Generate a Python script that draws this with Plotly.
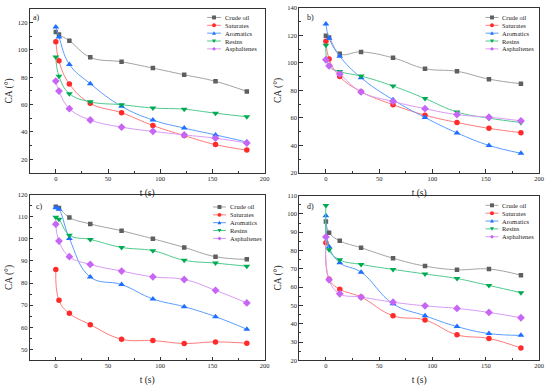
import plotly.graph_objects as go
from plotly.subplots import make_subplots

W, H = 550, 390

t = [0, 3, 13, 33, 63, 93, 123, 153, 183]
series_names = ["Crude oil", "Saturates", "Aromatics", "Resins", "Asphaltenes"]
panel_labels = ["a)", "b)", "c)", "d)"]

# panel a
a_crude = [113.1, 111.2, 106.7, 94.6, 91.3, 86.7, 81.8, 77.0, 69.6]
a_sat = [106.0, 92.0, 75.1, 60.9, 54.0, 44.7, 37.3, 30.7, 26.7]
a_aro = [116.7, 109.5, 89.4, 75.3, 58.7, 48.7, 42.8, 37.8, 32.6]
a_res = [94.8, 80.8, 68.0, 62.0, 59.9, 57.5, 56.6, 53.7, 51.1]
a_asp = [77.2, 69.9, 57.0, 48.7, 43.5, 40.4, 37.8, 35.4, 31.9]
# panel b
b_crude = [119.7, 118.5, 106.6, 108.0, 103.7, 95.8, 93.9, 88.2, 84.9]
b_sat = [115.7, 102.8, 90.1, 79.1, 69.6, 62.0, 56.7, 52.4, 49.3]
b_aro = [128.3, 118.0, 104.9, 89.2, 73.2, 60.3, 49.1, 40.0, 34.3]
b_res = [112.8, 97.5, 93.7, 90.4, 83.2, 74.1, 64.3, 59.8, 56.7]
b_asp = [102.3, 97.8, 92.0, 78.9, 72.0, 66.7, 62.4, 60.5, 57.9]
# panel c
c_crude = [114.5, 113.9, 109.6, 106.7, 103.6, 100.0, 96.1, 91.9, 90.7]
c_sat = [86.1, 72.2, 66.3, 61.2, 54.6, 54.0, 52.7, 53.4, 52.8]
c_aro = [114.0, 113.3, 100.1, 82.7, 79.3, 72.8, 69.3, 64.8, 59.1]
c_res = [109.7, 108.8, 101.6, 99.7, 96.1, 94.6, 90.3, 89.0, 87.6]
c_asp = [106.6, 99.0, 91.9, 88.4, 85.4, 82.8, 81.6, 76.7, 71.0]
# panel d
d_crude = [95.8, 89.7, 85.3, 81.5, 75.8, 71.5, 69.5, 69.9, 66.5]
d_sat = [84.2, 64.3, 58.9, 54.6, 44.4, 42.1, 34.0, 32.0, 26.8]
d_aro = [98.9, 82.0, 73.3, 68.2, 50.9, 44.4, 38.5, 34.7, 33.7]
d_res = [104.6, 80.4, 74.9, 72.4, 69.7, 67.2, 64.7, 60.9, 57.0]
d_asp = [87.4, 64.0, 56.4, 54.6, 51.8, 49.8, 48.4, 46.2, 43.3]

panels = [
    [a_crude, a_sat, a_aro, a_res, a_asp],
    [b_crude, b_sat, b_aro, b_res, b_asp],
    [c_crude, c_sat, c_aro, c_res, c_asp],
    [d_crude, d_sat, d_aro, d_res, d_asp],
]

x_ticks = [0, 50, 100, 150, 200]
y_ranges = [[10, 130], [20, 140], [45, 120], [20, 110]]
y_ticks = [
    [20, 40, 60, 80, 100, 120],
    [20, 40, 60, 80, 100, 120, 140],
    [50, 60, 70, 80, 90, 100, 110, 120],
    [20, 30, 40, 50, 60, 70, 80, 90, 100, 110],
]
y_minor = [10, 10, 5, 5]

marker_colors = ["#5f5f5f", "#ff2b2b", "#1f6fff", "#00aa50", "#c766f5"]
line_colors = ["#a3a3a3", "#ff7a7a", "#5a9cff", "#4fc98c", "#d89af5"]
symbols = ["square", "circle", "triangle-up", "triangle-down", "diamond"]
sizes = [4.5, 5.5, 6, 6, 6]

# frame boxes in pixels (left, right, top, bottom)
frames = [(30, 267, 5, 172), (302, 544, 4, 172), (30, 267, 194, 363), (302, 544, 195, 363)]

SERIF = "Liberation Serif, Times New Roman, serif"

fig = make_subplots(rows=2, cols=2)

for i, data in enumerate(panels):
    r, c = i // 2 + 1, i % 2 + 1
    for k, ys in enumerate(data):
        fig.add_trace(go.Scatter(
            x=t, y=ys, mode="lines+markers", name=series_names[k],
            line=dict(color=line_colors[k], width=1, shape="spline", smoothing=1.2),
            marker=dict(symbol=symbols[k], color=marker_colors[k], size=sizes[k], line=dict(width=0)),
            showlegend=False,
        ), row=r, col=c)

layout_updates = {}
for i in range(4):
    l, rr, tp, bt = frames[i]
    xn = "xaxis" if i == 0 else f"xaxis{i+1}"
    yn = "yaxis" if i == 0 else f"yaxis{i+1}"
    layout_updates[xn] = dict(
        domain=[l / W, rr / W], range=[-25, 200], tickvals=x_ticks,
        ticks="inside", ticklen=3.5, tickwidth=1, tickcolor="#333",
        minor=dict(ticks="inside", ticklen=2, dtick=25, tick0=0, tickcolor="#333"),
        showline=True, linecolor="#333", linewidth=1, mirror=True,
        showgrid=False, zeroline=False, ticklabelstandoff=-1,
        tickfont=dict(family=SERIF, size=6.5, color="#222"),
        title=dict(text="t (s)", font=dict(family=SERIF, size=9.5, color="#222"), standoff=8),
    )
    layout_updates[yn] = dict(
        domain=[1 - bt / H, 1 - tp / H], range=y_ranges[i], tickvals=y_ticks[i],
        ticks="inside", ticklen=3.5, tickwidth=1, tickcolor="#333",
        minor=dict(ticks="inside", ticklen=2, dtick=y_minor[i], tick0=0, tickcolor="#333"),
        showline=True, linecolor="#333", linewidth=1, mirror=True,
        showgrid=False, zeroline=False,
        tickfont=dict(family=SERIF, size=6.5, color="#222"),
        title=dict(text="CA (°)", font=dict(family=SERIF, size=9.5, color="#222"), standoff=3),
    )

fig.update_layout(**layout_updates)

# manual legends (pixel layout)
legend_pos = [(209, 223, 225, 13.7), (490, 503, 505, 13.7), (215, 228, 230, 206.7), (490, 503, 505, 205.0)]
label_pos = [(37, 14), (313, 14), (40, 205.7), (313, 205.7)]
row_gap = 8.0

def px(x):
    return x / W

def py(y):
    return 1 - y / H

def symbol_shape(kind, cx, cy, s, color):
    h = s / 2
    if kind == "square":
        return dict(type="rect", xref="paper", yref="paper", x0=px(cx - h), x1=px(cx + h),
                    y0=py(cy + h), y1=py(cy - h), fillcolor=color, line=dict(width=0))
    if kind == "circle":
        return dict(type="circle", xref="paper", yref="paper", x0=px(cx - h), x1=px(cx + h),
                    y0=py(cy + h), y1=py(cy - h), fillcolor=color, line=dict(width=0))
    if kind == "triangle-up":
        pts = [(cx, cy - h), (cx + h, cy + h * 0.8), (cx - h, cy + h * 0.8)]
    elif kind == "triangle-down":
        pts = [(cx, cy + h), (cx + h, cy - h * 0.8), (cx - h, cy - h * 0.8)]
    else:
        pts = [(cx, cy - h), (cx + h, cy), (cx, cy + h), (cx - h, cy)]
    path = "M " + " L ".join(f"{px(a):.5f},{py(b):.5f}" for a, b in pts) + " Z"
    return dict(type="path", xref="paper", yref="paper", path=path, fillcolor=color, line=dict(width=0))

shapes = []
annotations = []
for i in range(4):
    x0, x1, xt, y0 = legend_pos[i]
    for k, name in enumerate(series_names):
        yy = y0 + k * row_gap
        shapes.append(dict(type="line", xref="paper", yref="paper", x0=px(x0), x1=px(x1),
                           y0=py(yy), y1=py(yy), line=dict(color=line_colors[k], width=1)))
        shapes.append(symbol_shape(symbols[k], (x0 + x1) / 2, yy, 4.0, marker_colors[k]))
        annotations.append(dict(x=px(xt), y=py(yy), xref="paper", yref="paper", text=name,
                                showarrow=False, xanchor="left", yanchor="middle",
                                font=dict(family=SERIF, size=6.5, color="#222")))
    lx, ly = label_pos[i]
    annotations.append(dict(x=px(lx), y=py(ly), xref="paper", yref="paper", text=panel_labels[i],
                            showarrow=False, xanchor="center", yanchor="middle",
                            font=dict(family=SERIF, size=8, color="#222")))

fig.update_layout(
    width=W, height=H, margin=dict(l=0, r=0, t=0, b=0),
    paper_bgcolor="white", plot_bgcolor="white",
    shapes=shapes, annotations=annotations, showlegend=False,
)

fig.write_html("out.html", config={"displayModeBar": False},
               post_script="document.body.style.margin='0px';")
